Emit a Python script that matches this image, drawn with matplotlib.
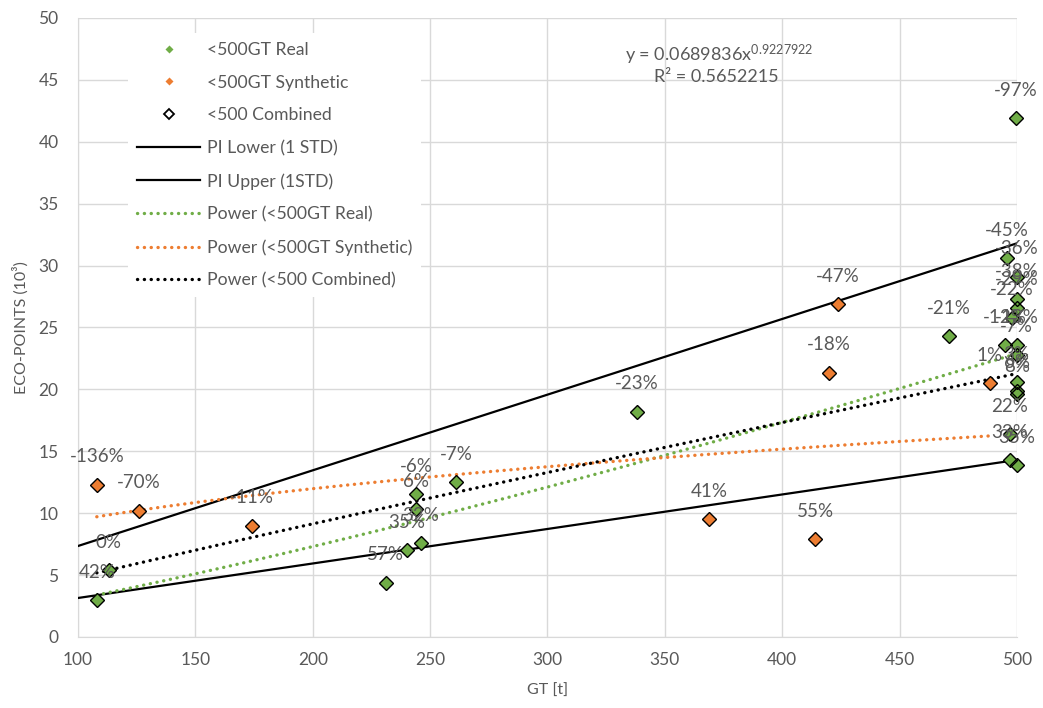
import numpy as np
import matplotlib
matplotlib.use("Agg")
import matplotlib.pyplot as plt
from matplotlib.lines import Line2D

# ---------------- data ----------------
real_gt = [108, 113, 231, 240, 246, 244, 244, 261, 338, 471, 499.6, 495.6, 499.9,
           499.9, 499.9, 497.7, 494.9, 499.9, 499.9, 499.9, 499.9, 499.9, 497, 497, 499.9]
real_eco = [3.0, 5.4, 4.4, 7.0, 7.6, 10.3, 11.55, 12.5, 18.2, 24.3, 41.9, 30.6, 29.1,
            27.3, 26.6, 25.8, 23.6, 23.6, 22.8, 20.6, 19.9, 19.6, 16.4, 14.3, 13.9]
real_lbl = ['42%', '0%', '57%', '35%', '32%', '6%', '-6%', '-7%', '-23%', '-21%', '-97%',
            '-45%', '-36%', '-38%', '-29%', '-22%', '-12%', '-13%', '-7%', '3%', '6%',
            '8%', '22%', '33%', '35%']

synth_gt = [108, 126, 174, 369, 414, 420, 423.6, 488.5]
synth_eco = [12.3, 10.2, 9.0, 9.5, 7.9, 21.35, 26.9, 20.5]
synth_lbl = ['-136%', '-70%', '-11%', '41%', '55%', '-18%', '-47%', '1%']

pi_gt = [100, 500]
pi_lower = [3.15, 14.3]
pi_upper = [7.35, 31.8]

x_ticks = [100, 150, 200, 250, 300, 350, 400, 450, 500]
y_ticks = [0, 5, 10, 15, 20, 25, 30, 35, 40, 45, 50]

equation = r'y = 0.0689836x$^{0.9227922}$'
r_squared = 'R² = 0.5652215'

GREEN = '#70AD47'
ORANGE = '#ED7D31'
GRAY = '#595959'

plt.rcParams['font.family'] = ['Lato', 'DejaVu Sans']
plt.rcParams['mathtext.fontset'] = 'custom'
plt.rcParams['mathtext.rm'] = 'Lato'
plt.rcParams['mathtext.default'] = 'regular'

fig = plt.figure(figsize=(10.43, 7.08), dpi=100)
ax = fig.add_axes([0.0748, 0.1003, 0.9002, 0.8743])


def power_fit(x, y):
    x = np.asarray(x, float)
    y = np.asarray(y, float)
    b, loga = np.polyfit(np.log(x), np.log(y), 1)
    xs = np.linspace(x.min(), x.max(), 200)
    return xs, np.exp(loga) * xs ** b


comb_gt = real_gt + synth_gt
comb_eco = real_eco + synth_eco
comb_lbl = real_lbl + synth_lbl

DOT = (0, (0.05, 2.0))
DLW = 2.4

# PI lines
ax.plot(pi_gt, pi_lower, color='black', lw=1.6, zorder=3)
ax.plot(pi_gt, pi_upper, color='black', lw=1.6, zorder=3)

# trend lines
for xs_, ys_, c in [(real_gt, real_eco, GREEN), (synth_gt, synth_eco, ORANGE),
                    (comb_gt, comb_eco, 'black')]:
    fx, fy = power_fit(xs_, ys_)
    ax.plot(fx, fy, color=c, lw=DLW, ls=DOT, dash_capstyle='round', zorder=3)

# markers
ax.plot(real_gt, real_eco, ls='none', marker='D', ms=6.7, mfc=GREEN, mec='none',
        zorder=4, clip_on=False)
ax.plot(synth_gt, synth_eco, ls='none', marker='D', ms=6.7, mfc=ORANGE, mec='none',
        zorder=4, clip_on=False)
ax.plot(comb_gt, comb_eco, ls='none', marker='D', ms=6.7, mfc='none', mec='black',
        mew=1.0, zorder=5, clip_on=False)

for x, y, t in zip(comb_gt, comb_eco, comb_lbl):
    ax.annotate(t, (x, y), xytext=(0, 20), textcoords='offset points', ha='center',
                va='center', color=GRAY, fontsize=13.5, zorder=6, annotation_clip=False)

ax.text(373, 47.0, equation, ha='center', va='center', color=GRAY, fontsize=13)
ax.text(372, 45.2, r_squared, ha='center', va='center', color=GRAY, fontsize=13)

ax.set_xlim(100, 500)
ax.set_ylim(0, 50)
ax.set_xticks(x_ticks)
ax.set_yticks(y_ticks)
ax.grid(True, color='#d9d9d9', lw=1.0)
ax.set_axisbelow(True)
ax.tick_params(length=0, labelsize=12.5, labelcolor=GRAY)
ax.tick_params(axis='x', pad=11)
ax.tick_params(axis='y', pad=14)
for s in ['top', 'right']:
    ax.spines[s].set_visible(False)
for s in ['left', 'bottom']:
    ax.spines[s].set_color('#d9d9d9')
ax.set_xlabel('GT [t]', color=GRAY, fontsize=11.5, labelpad=11)
ax.set_ylabel('ECO-POINTS (10³)', color=GRAY, fontsize=11.5, labelpad=7)

handles = [
    Line2D([], [], ls='none', marker='D', ms=4.5, mfc=GREEN, mec='none'),
    Line2D([], [], ls='none', marker='D', ms=4.5, mfc=ORANGE, mec='none'),
    Line2D([], [], ls='none', marker='D', ms=5, mfc='white', mec='black', mew=1.3),
    Line2D([], [], color='black', lw=1.6),
    Line2D([], [], color='black', lw=1.6),
    Line2D([], [], color=GREEN, lw=DLW, ls=DOT, dash_capstyle='round'),
    Line2D([], [], color=ORANGE, lw=DLW, ls=DOT, dash_capstyle='round'),
    Line2D([], [], color='black', lw=DLW, ls=DOT, dash_capstyle='round'),
]
labels = ['<500GT Real', '<500GT Synthetic', '<500 Combined', 'PI Lower (1 STD)',
          'PI Upper (1STD)', 'Power (<500GT Real)', 'Power (<500GT Synthetic)',
          'Power (<500 Combined)']
leg = ax.legend(handles, labels, loc='upper left', bbox_to_anchor=(0.044, 0.990),
                frameon=True, facecolor='white', edgecolor='none', framealpha=1,
                fontsize=12.7, handlelength=3.6, handletextpad=0.35, labelspacing=0.95,
                borderpad=0.5, fancybox=False)
for t in leg.get_texts():
    t.set_color(GRAY)
leg.set_zorder(7)

fig.savefig('out.png', dpi=100)
